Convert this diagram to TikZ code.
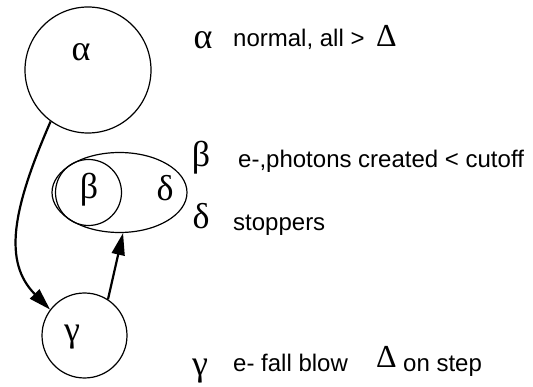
\documentclass[tikz,border=0pt]{standalone}
\usepackage{fontspec}
\setmainfont{Liberation Sans}
\newfontfamily\grk{Liberation Serif}
\usetikzlibrary{shapes.geometric,arrows.meta}
\begin{document}
\begin{tikzpicture}[x=1pt,y=-1pt,
  ring/.style={draw,circle,line width=1.2pt,inner sep=0pt},
  greek/.style={font=\grk\fontsize{36}{36}\selectfont,inner sep=0pt},
  bigdelta/.style={font=\grk\fontsize{32}{32}\selectfont,inner sep=0pt,anchor=base west},
  txt/.style={font=\fontsize{24}{24}\selectfont,inner sep=0pt,anchor=base west},
  arr/.style={line width=2.2pt,-{Triangle[length=22pt,width=13pt]}}]
\useasboundingbox (0,0) rectangle (533,387);
% shapes
\node[ring,minimum size=126pt] (A) at (88,70) {};
\node[ring,minimum size=85pt] (G) at (84.5,335.5) {};
\node[draw,ellipse,line width=1.2pt,minimum width=135pt,minimum height=80pt,inner sep=0pt] (E) at (119.5,192.5) {};
\node[ring,minimum size=66pt] (B) at (88.5,192.5) {};
% labels in shapes
\node[greek] (la) at (81,52) {α};
\node[greek] (lb) at (89,190) {β};
\node[greek] (ld) at (165,188) {δ};
\node[greek] (lg) at (72,337) {γ};
% connectors
\draw[arr] (A.234) .. controls (12,210) and (3,262) .. (G.143);
\draw[arr] (G.57) -- (E.-85);
% legend
\node[greek] (ka) at (203,40) {α};
\node[txt] (ta) at (233,47) {normal, all >};
\node[bigdelta] (da) at (376,47) {Δ};
\node[greek] (kb) at (201,158) {β};
\node[txt] (tb) at (238,168) {e-,photons created < cutoff};
\node[greek] (kd) at (201,216) {δ};
\node[txt] (td) at (233,231) {stoppers};
\node[greek] (kg) at (200,371) {γ};
\node[txt] (tg) at (233,371) {e- fall blow};
\node[bigdelta] (dg) at (376,367) {Δ};
\node[txt] (tg2) at (403,372) {on step};
\end{tikzpicture}
\end{document}
